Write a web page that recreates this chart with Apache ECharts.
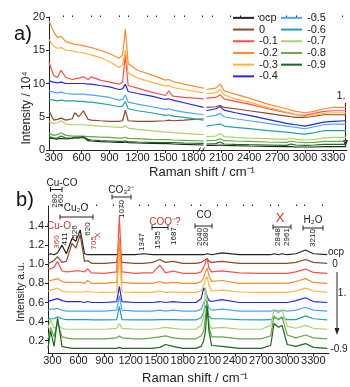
<!DOCTYPE html>
<html>
<head>
<meta charset="utf-8">
<script src="https://cdn.jsdelivr.net/npm/echarts@6/dist/echarts.min.js"></script>
<style>html,body{margin:0;padding:0;background:#fff}#chart{width:350px;height:387px}</style>
</head>
<body>
<div id="chart"></div>
<script>
// potentials (V) in legend order
const names = ['ocp', '0', '-0.1', '-0.2', '-0.3', '-0.4', '-0.5', '-0.6', '-0.7', '-0.8', '-0.9'];
const colors = ['#222222', '#8a4b2a', '#ff4d4d', '#ff8a2a', '#ffb33d', '#2626e6', '#4aa6f5', '#22a3a3', '#a8d46a', '#68a846', '#186b18'];
const ticksX = [300, 600, 900, 1200, 1500, 1800, 2100, 2400, 2700, 3000, 3300];
const ticksYb = [0.2, 0.4, 0.6, 0.8, 1.0, 1.2, 1.4];

// a) raw spectra, intensity / 10^4 (null = detector gap)
const waveA = [250, 300, 340, 380, 430, 500, 526, 570, 620, 670, 705, 800, 900, 1000, 1040, 1070, 1100, 1200, 1350, 1500, 1535, 1580, 1700, 1910, 1925, 1940, 2040, 2090, 2130, 2250, 2400, 2600, 2800, 2850, 2900, 3000, 3100, 3200, 3300, 3440];
const aOcp = [1.8, 1.7, 1.65, 1.75, 1.65, 1.75, 1.85, 1.8, 1.9, 1.4, 1.35, 1.25, 1.2, 1.15, 1.15, 1.2, 1.1, 1.05, 1.0, 0.95, 0.95, 0.9, 0.85, 0.75, null, 0.7, 0.7, 0.75, 0.7, 0.65, 0.6, 0.55, 0.5, 0.5, 0.45, 0.45, 0.45, 0.5, 0.5, 0.5];
const a0 = [5.9, 4.5, 4.6, 4.8, 4.5, 4.7, 5.6, 5.0, 5.9, 4.6, 4.5, 4.4, 4.3, 4.3, 4.4, 6.0, 4.4, 4.3, 4.3, 4.4, 4.5, 4.4, 4.5, 4.7, null, 6.4, 6.5, 6.7, 6.4, 6.2, 5.9, 5.5, 5.1, 5.0, 4.9, 4.9, 5.1, 5.3, 5.3, 5.3];
const a01 = [13.2, 11.2, 10.9, 12.0, 10.9, 10.6, 10.7, 10.8, 11.0, 10.6, 11.0, 10.5, 10.2, 9.9, 10.2, 14.3, 9.7, 9.3, 8.7, 8.2, 8.9, 8.1, 7.9, 7.7, null, 7.8, 7.9, 8.3, 7.7, 7.3, 6.9, 6.2, 5.6, 5.5, 5.3, 5.2, 5.5, 5.8, 5.9, 5.9];
const a02 = [19.4, 17.8, 16.9, 17.1, 16.3, 16.0, 15.9, 15.8, 15.7, 15.5, 15.4, 15.0, 14.5, 13.8, 14.3, 18.2, 13.0, 12.0, 11.3, 10.5, 10.6, 10.3, 9.9, 9.3, null, 9.1, 9.3, 9.9, 8.9, 8.4, 7.8, 6.9, 6.2, 6.0, 5.8, 5.6, 5.8, 6.2, 6.4, 6.4];
const a03 = [16.6, 15.6, 15.3, 15.4, 15.0, 14.9, 14.8, 14.7, 14.6, 14.4, 14.3, 13.9, 13.3, 12.4, 12.8, 15.0, 11.6, 10.8, 10.2, 9.6, 9.7, 9.4, 9.1, 8.6, null, 8.5, 8.6, 9.1, 8.3, 7.7, 7.2, 6.4, 5.7, 5.5, 5.3, 5.0, 5.2, 5.5, 5.6, 5.6];
const a04 = [10.4, 10.2, 10.1, 10.2, 10.0, 10.0, 10.0, 10.0, 10.0, 9.9, 9.9, 9.7, 9.5, 9.1, 9.2, 9.9, 8.8, 8.5, 8.1, 7.6, 7.7, 7.5, 7.1, 6.4, null, 5.9, 6.2, 6.5, 6.0, 5.6, 5.2, 4.6, 4.0, 3.9, 3.8, 3.6, 3.9, 4.2, 4.3, 4.4];
const a05 = [8.9, 8.7, 8.6, 8.7, 8.5, 8.4, 8.4, 8.4, 8.4, 8.3, 8.3, 8.1, 7.9, 7.5, 7.6, 8.3, 7.2, 6.9, 6.5, 6.1, 6.2, 6.0, 5.7, 5.3, null, 5.0, 5.2, 5.5, 5.0, 4.7, 4.4, 4.0, 3.6, 3.5, 3.4, 3.2, 3.5, 3.8, 3.9, 3.9];
const a06 = [7.6, 7.5, 7.4, 7.5, 7.4, 7.4, 7.4, 7.3, 7.3, 7.2, 7.2, 7.0, 6.8, 6.5, 6.6, 7.3, 6.2, 5.9, 5.6, 5.2, 5.3, 5.1, 4.9, 4.5, null, 3.6, 3.8, 3.9, 3.6, 3.4, 3.2, 2.9, 2.7, 2.6, 2.5, 2.4, 2.6, 2.9, 2.9, 2.9];
const a07 = [4.3, 4.0, 4.1, 4.4, 3.9, 3.8, 3.8, 3.8, 3.8, 3.7, 3.7, 3.6, 3.5, 3.4, 3.4, 3.7, 3.3, 3.1, 2.9, 2.7, 2.7, 2.6, 2.5, 2.3, null, 2.0, 2.1, 2.5, 2.0, 1.9, 1.8, 1.7, 1.6, 1.8, 1.6, 1.5, 1.6, 1.8, 1.9, 1.9];
const a08 = [2.5, 2.2, 2.3, 2.6, 2.2, 2.1, 2.1, 2.1, 2.1, 2.0, 2.0, 1.95, 1.9, 1.8, 1.8, 1.9, 1.75, 1.7, 1.6, 1.55, 1.55, 1.5, 1.45, 1.35, null, 1.4, 1.45, 1.7, 1.4, 1.35, 1.3, 1.2, 1.15, 1.35, 1.2, 1.1, 1.15, 1.3, 1.3, 1.3];
const a09 = [2.0, 1.8, 1.8, 2.1, 1.8, 1.8, 1.9, 1.9, 2.0, 1.6, 1.5, 1.4, 1.35, 1.3, 1.3, 1.35, 1.25, 1.2, 1.15, 1.1, 1.1, 1.1, 1.05, 1.0, null, 0.9, 0.95, 1.2, 0.9, 0.85, 0.8, 0.75, 0.7, 0.9, 0.75, 0.7, 0.75, 0.85, 0.85, 0.85];

// b) normalised, offset spectra
const waveB = [250, 280, 320, 360, 411, 460, 526, 570, 620, 670, 705, 750, 900, 1040, 1070, 1100, 1250, 1347, 1450, 1535, 1600, 1687, 1800, 1950, 2010, 2040, 2060, 2080, 2100, 2130, 2250, 2450, 2700, 2810, 2848, 2900, 2940, 3000, 3100, 3210, 3300, 3460];
const bOcp = [1.10, 1.11, 1.10, 1.12, 1.20, 1.11, 1.27, 1.24, 1.36, 1.11, 1.10, 1.10, 1.10, 1.10, 1.11, 1.10, 1.10, 1.11, 1.10, 1.10, 1.10, 1.10, 1.10, 1.10, 1.10, 1.10, 1.11, 1.11, 1.10, 1.10, 1.12, 1.10, 1.10, 1.10, 1.11, 1.10, 1.11, 1.10, 1.11, 1.15, 1.11, 1.10];
const b0 = [1.01, 1.02, 1.04, 1.08, 1.02, 1.03, 1.22, 1.17, 1.31, 1.03, 1.04, 1.01, 1.01, 1.02, 1.20, 1.02, 1.01, 1.01, 1.02, 1.05, 1.02, 1.03, 1.01, 1.01, 1.02, 1.04, 1.06, 1.06, 1.03, 1.02, 1.03, 1.01, 1.01, 1.01, 1.01, 1.01, 1.01, 1.01, 1.02, 1.05, 1.02, 1.01];
const b01 = [0.96, 0.95, 0.97, 1.03, 0.93, 0.92, 0.925, 0.93, 0.93, 0.92, 0.95, 0.91, 0.905, 0.92, 1.50, 0.92, 0.905, 0.91, 0.91, 0.99, 0.91, 0.93, 0.905, 0.905, 0.92, 0.97, 1.02, 1.06, 0.96, 0.92, 0.93, 0.91, 0.905, 0.905, 0.905, 0.905, 0.905, 0.905, 0.92, 0.95, 0.915, 0.905];
const b02 = [0.82, 0.83, 0.84, 0.85, 0.82, 0.81, 0.81, 0.81, 0.81, 0.80, 0.83, 0.80, 0.80, 0.81, 1.28, 0.81, 0.80, 0.80, 0.80, 0.82, 0.80, 0.81, 0.80, 0.80, 0.82, 0.86, 0.92, 0.96, 0.88, 0.82, 0.83, 0.80, 0.80, 0.80, 0.80, 0.80, 0.80, 0.80, 0.82, 0.85, 0.81, 0.80];
const b03 = [0.72, 0.73, 0.74, 0.75, 0.72, 0.71, 0.71, 0.71, 0.71, 0.71, 0.72, 0.71, 0.706, 0.71, 1.12, 0.71, 0.706, 0.706, 0.706, 0.72, 0.706, 0.71, 0.706, 0.706, 0.72, 0.78, 0.84, 0.87, 0.78, 0.72, 0.73, 0.71, 0.706, 0.706, 0.706, 0.706, 0.706, 0.706, 0.72, 0.75, 0.72, 0.706];
const b04 = [0.61, 0.62, 0.63, 0.64, 0.62, 0.61, 0.61, 0.61, 0.61, 0.60, 0.61, 0.60, 0.60, 0.61, 0.77, 0.61, 0.60, 0.60, 0.60, 0.61, 0.60, 0.61, 0.60, 0.60, 0.64, 0.75, 0.72, 0.66, 0.62, 0.61, 0.63, 0.60, 0.60, 0.60, 0.60, 0.60, 0.60, 0.60, 0.62, 0.65, 0.61, 0.60];
const b05 = [0.52, 0.53, 0.53, 0.54, 0.52, 0.51, 0.51, 0.51, 0.51, 0.51, 0.51, 0.51, 0.51, 0.52, 0.67, 0.52, 0.51, 0.51, 0.51, 0.52, 0.51, 0.52, 0.51, 0.51, 0.53, 0.60, 0.63, 0.60, 0.54, 0.52, 0.53, 0.51, 0.51, 0.51, 0.52, 0.51, 0.52, 0.51, 0.52, 0.55, 0.52, 0.51];
const b06 = [0.42, 0.43, 0.43, 0.45, 0.43, 0.42, 0.42, 0.42, 0.42, 0.42, 0.42, 0.417, 0.417, 0.42, 0.56, 0.42, 0.417, 0.417, 0.417, 0.42, 0.42, 0.42, 0.417, 0.417, 0.44, 0.50, 0.57, 0.55, 0.46, 0.43, 0.43, 0.42, 0.417, 0.42, 0.44, 0.43, 0.44, 0.42, 0.42, 0.46, 0.43, 0.417];
const b07 = [0.33, 0.42, 0.33, 0.36, 0.33, 0.32, 0.32, 0.32, 0.32, 0.32, 0.32, 0.32, 0.32, 0.33, 0.38, 0.33, 0.32, 0.32, 0.32, 0.33, 0.34, 0.33, 0.32, 0.32, 0.36, 0.45, 0.76, 0.60, 0.38, 0.33, 0.34, 0.32, 0.32, 0.36, 0.52, 0.49, 0.52, 0.35, 0.33, 0.36, 0.33, 0.32];
const b08 = [0.22, 0.34, 0.24, 0.40, 0.24, 0.23, 0.22, 0.22, 0.22, 0.22, 0.22, 0.22, 0.22, 0.23, 0.25, 0.23, 0.22, 0.22, 0.23, 0.24, 0.25, 0.23, 0.22, 0.22, 0.25, 0.30, 0.45, 0.62, 0.35, 0.24, 0.24, 0.22, 0.22, 0.25, 0.46, 0.42, 0.45, 0.26, 0.23, 0.26, 0.23, 0.22];
const b09 = [0.12, 0.30, 0.14, 0.44, 0.14, 0.13, 0.12, 0.12, 0.12, 0.12, 0.12, 0.12, 0.12, 0.12, 0.13, 0.12, 0.12, 0.12, 0.12, 0.13, 0.16, 0.14, 0.12, 0.12, 0.14, 0.20, 0.30, 0.56, 0.30, 0.15, 0.14, 0.12, 0.12, 0.15, 0.38, 0.34, 0.36, 0.16, 0.14, 0.17, 0.13, 0.12];

const panelA = [aOcp, a0, a01, a02, a03, a04, a05, a06, a07, a08, a09];
const panelB = [bOcp, b0, b01, b02, b03, b04, b05, b06, b07, b08, b09];

const FONT = 'Liberation Sans, Arial, sans-serif';
const INK = '#222';
const RED = '#c0392b';

const minorX = [];
for (let v = 300; v <= 3400; v += 100) if (v % 300) minorX.push(v);

function mainX(gridIndex, max) {
  return {
    type: 'value', gridIndex: gridIndex, min: 250, max: max,
    axisLine: { lineStyle: { color: INK, width: 1 } },
    axisTick: { customValues: ticksX, length: 3, lineStyle: { color: INK } },
    axisLabel: { customValues: ticksX, color: INK, fontSize: 11, fontFamily: FONT, margin: 2,
      formatter: function (v) { return String(v); } },
    splitLine: { show: false }
  };
}
function minorAxis(gridIndex, max) {
  return {
    type: 'value', gridIndex: gridIndex, min: 250, max: max,
    axisLine: { show: false },
    axisTick: { customValues: minorX, length: 1.5, lineStyle: { color: INK } },
    axisLabel: { show: false },
    splitLine: { show: false }
  };
}

const series = [];
names.forEach(function (n, i) {
  const common = {
    name: n, type: 'line', showSymbol: false, symbol: 'none', silent: true,
    lineStyle: { width: 1.2, color: colors[i] }, itemStyle: { color: colors[i] }
  };
  series.push(Object.assign({}, common, {
    xAxisIndex: 0, yAxisIndex: 0,
    data: waveA.map(function (x, j) { return [x, panelA[i][j] === null ? '-' : panelA[i][j]]; })
  }));
  series.push(Object.assign({}, common, {
    xAxisIndex: 2, yAxisIndex: 1,
    data: waveB.map(function (x, j) { return [x, panelB[i][j]]; })
  }));
});

// annotation helpers
function txt(x, y, s, size, color, rot) {
  return {
    type: 'text', x: x, y: y, rotation: rot || 0, silent: true,
    style: { text: s, fill: color || INK, font: (size || 10) + 'px ' + FONT,
      align: 'center', verticalAlign: 'middle', textAlign: 'center', textVerticalAlign: 'middle' }
  };
}
function vtxt(x, y, s, color) { return txt(x, y, s, 8, color, Math.PI / 2); }
function seg(x1, y1, x2, y2) {
  return { type: 'line', silent: true, shape: { x1: x1, y1: y1, x2: x2, y2: y2 }, style: { stroke: INK, lineWidth: 1 } };
}
function bracket(x1, x2, y) {
  return [seg(x1, y, x2, y), seg(x1, y - 2.5, x1, y + 2.5), seg(x2, y - 2.5, x2, y + 2.5)];
}
function arrow(x, y1, y2) {
  return [seg(x, y1, x, y2 - 5),
    { type: 'polygon', silent: true, shape: { points: [[x, y2], [x - 2.5, y2 - 7], [x + 2.5, y2 - 7]] }, style: { fill: INK } }];
}

const graphic = [].concat(
  [txt(23, 34, 'a)', 20, '#111'), txt(25, 200, 'b)', 20, '#111'),
   txt(27, 108, 'Intensity / 10\u2074', 12, INK, Math.PI / 2),
   txt(202, 172, 'Raman shift / cm\u207B\u00B9', 13),
   txt(21, 292, 'Intensity a.u.', 10.5, INK, Math.PI / 2),
   txt(195, 378, 'Raman shift / cm\u207B\u00B9', 13),
   txt(341, 96, '1.', 11)],
  arrow(345.5, 103, 147),
  [{ type: 'rect', silent: true, shape: { x: 199, y: 148, width: 4, height: 4 }, style: { fill: '#fff' } },
   seg(197.5, 152.5, 200.5, 147.5), seg(201.5, 152.5, 204.5, 147.5)],
  // panel b labels
  [txt(62, 183, 'Cu-CO', 10)], bracket(50.5, 62, 189.5),
  [vtxt(55, 201, '280'), vtxt(61, 201, '360')],
  [txt(76, 208, 'Cu\u2082O', 10)], bracket(60, 93, 217),
  [txt(59, 226, 'Cu-O', 10, RED), vtxt(56.5, 242, '360', RED), vtxt(65, 239, '411'),
   vtxt(75, 232, '526'), vtxt(87.5, 229, '620'), vtxt(93.5, 243, '705', RED), txt(97.5, 235, 'X', 8, RED, Math.PI / 2)],
  [txt(121, 190, 'CO\u2083\u00B2\u207B', 10)], bracket(112, 131, 197),
  [vtxt(121.7, 209, '1070'), vtxt(141.7, 242, '1347')],
  [txt(165, 222, 'COO\u207B?', 10, RED)], bracket(152, 168, 227.5),
  [vtxt(157.7, 240, '1535'), vtxt(173.3, 236, '1687')],
  [txt(204, 215, 'CO', 10)], bracket(195, 212, 226),
  [vtxt(200, 237, '2040'), vtxt(205.5, 237, '2080')],
  [txt(280, 218, 'X', 13, RED)], bracket(273, 291, 227),
  [vtxt(277.3, 237, '2848'), vtxt(286.7, 237, '2961')],
  [txt(313, 220, 'H\u2082O', 10)], bracket(303, 323, 228),
  [vtxt(312.7, 238, '3210')],
  [txt(336, 252, 'ocp', 10), txt(335, 264.5, '0', 10), txt(342, 293, '1.', 10), txt(339, 349, '-0.9', 10)],
  arrow(337, 272, 335)
);

var myChart = echarts.init(document.getElementById('chart'), null, { renderer: 'canvas' });

const option = {
  animation: false,
  backgroundColor: '#fff',
  grid: [
    { left: 49, right: 3, top: 17, height: 133, outerBoundsMode: 'none' },
    { left: 48, right: 21, top: 206, height: 147.5, outerBoundsMode: 'none' }
  ],
  legend: [
    { data: names.slice(0, 6), orient: 'vertical', left: 233, top: 12, padding: 0, itemGap: 0,
      itemWidth: 21, itemHeight: 2, icon: 'rect', selectedMode: false,
      textStyle: { fontSize: 11, color: INK, fontFamily: FONT, lineHeight: 11.7 } },
    { data: names.slice(6), orient: 'vertical', left: 281, top: 12, padding: 0, itemGap: 0,
      itemWidth: 21, itemHeight: 2, icon: 'rect', selectedMode: false,
      textStyle: { fontSize: 11, color: INK, fontFamily: FONT, lineHeight: 11.7 } }
  ],
  xAxis: [mainX(0, 3450), minorAxis(0, 3450), mainX(1, 3480), minorAxis(1, 3480)],
  yAxis: [
    { type: 'value', gridIndex: 0, min: 0, max: 20, interval: 5,
      axisLine: { show: true, lineStyle: { color: INK } },
      axisTick: { show: true, length: 3, lineStyle: { color: INK } },
      axisLabel: { color: INK, fontSize: 11, fontFamily: FONT, margin: 4 },
      splitLine: { show: false } },
    { type: 'value', gridIndex: 1, min: 0.066, max: 1.61,
      axisLine: { show: true, lineStyle: { color: INK } },
      axisTick: { show: true, customValues: ticksYb, length: 3, lineStyle: { color: INK } },
      axisLabel: { customValues: ticksYb, color: INK, fontSize: 11, fontFamily: FONT, margin: 4,
        formatter: function (v) { return v.toFixed(1); } },
      splitLine: { show: false } }
  ],
  series: series,
  graphic: graphic
};

myChart.setOption(option);
</script>
</body>
</html>
